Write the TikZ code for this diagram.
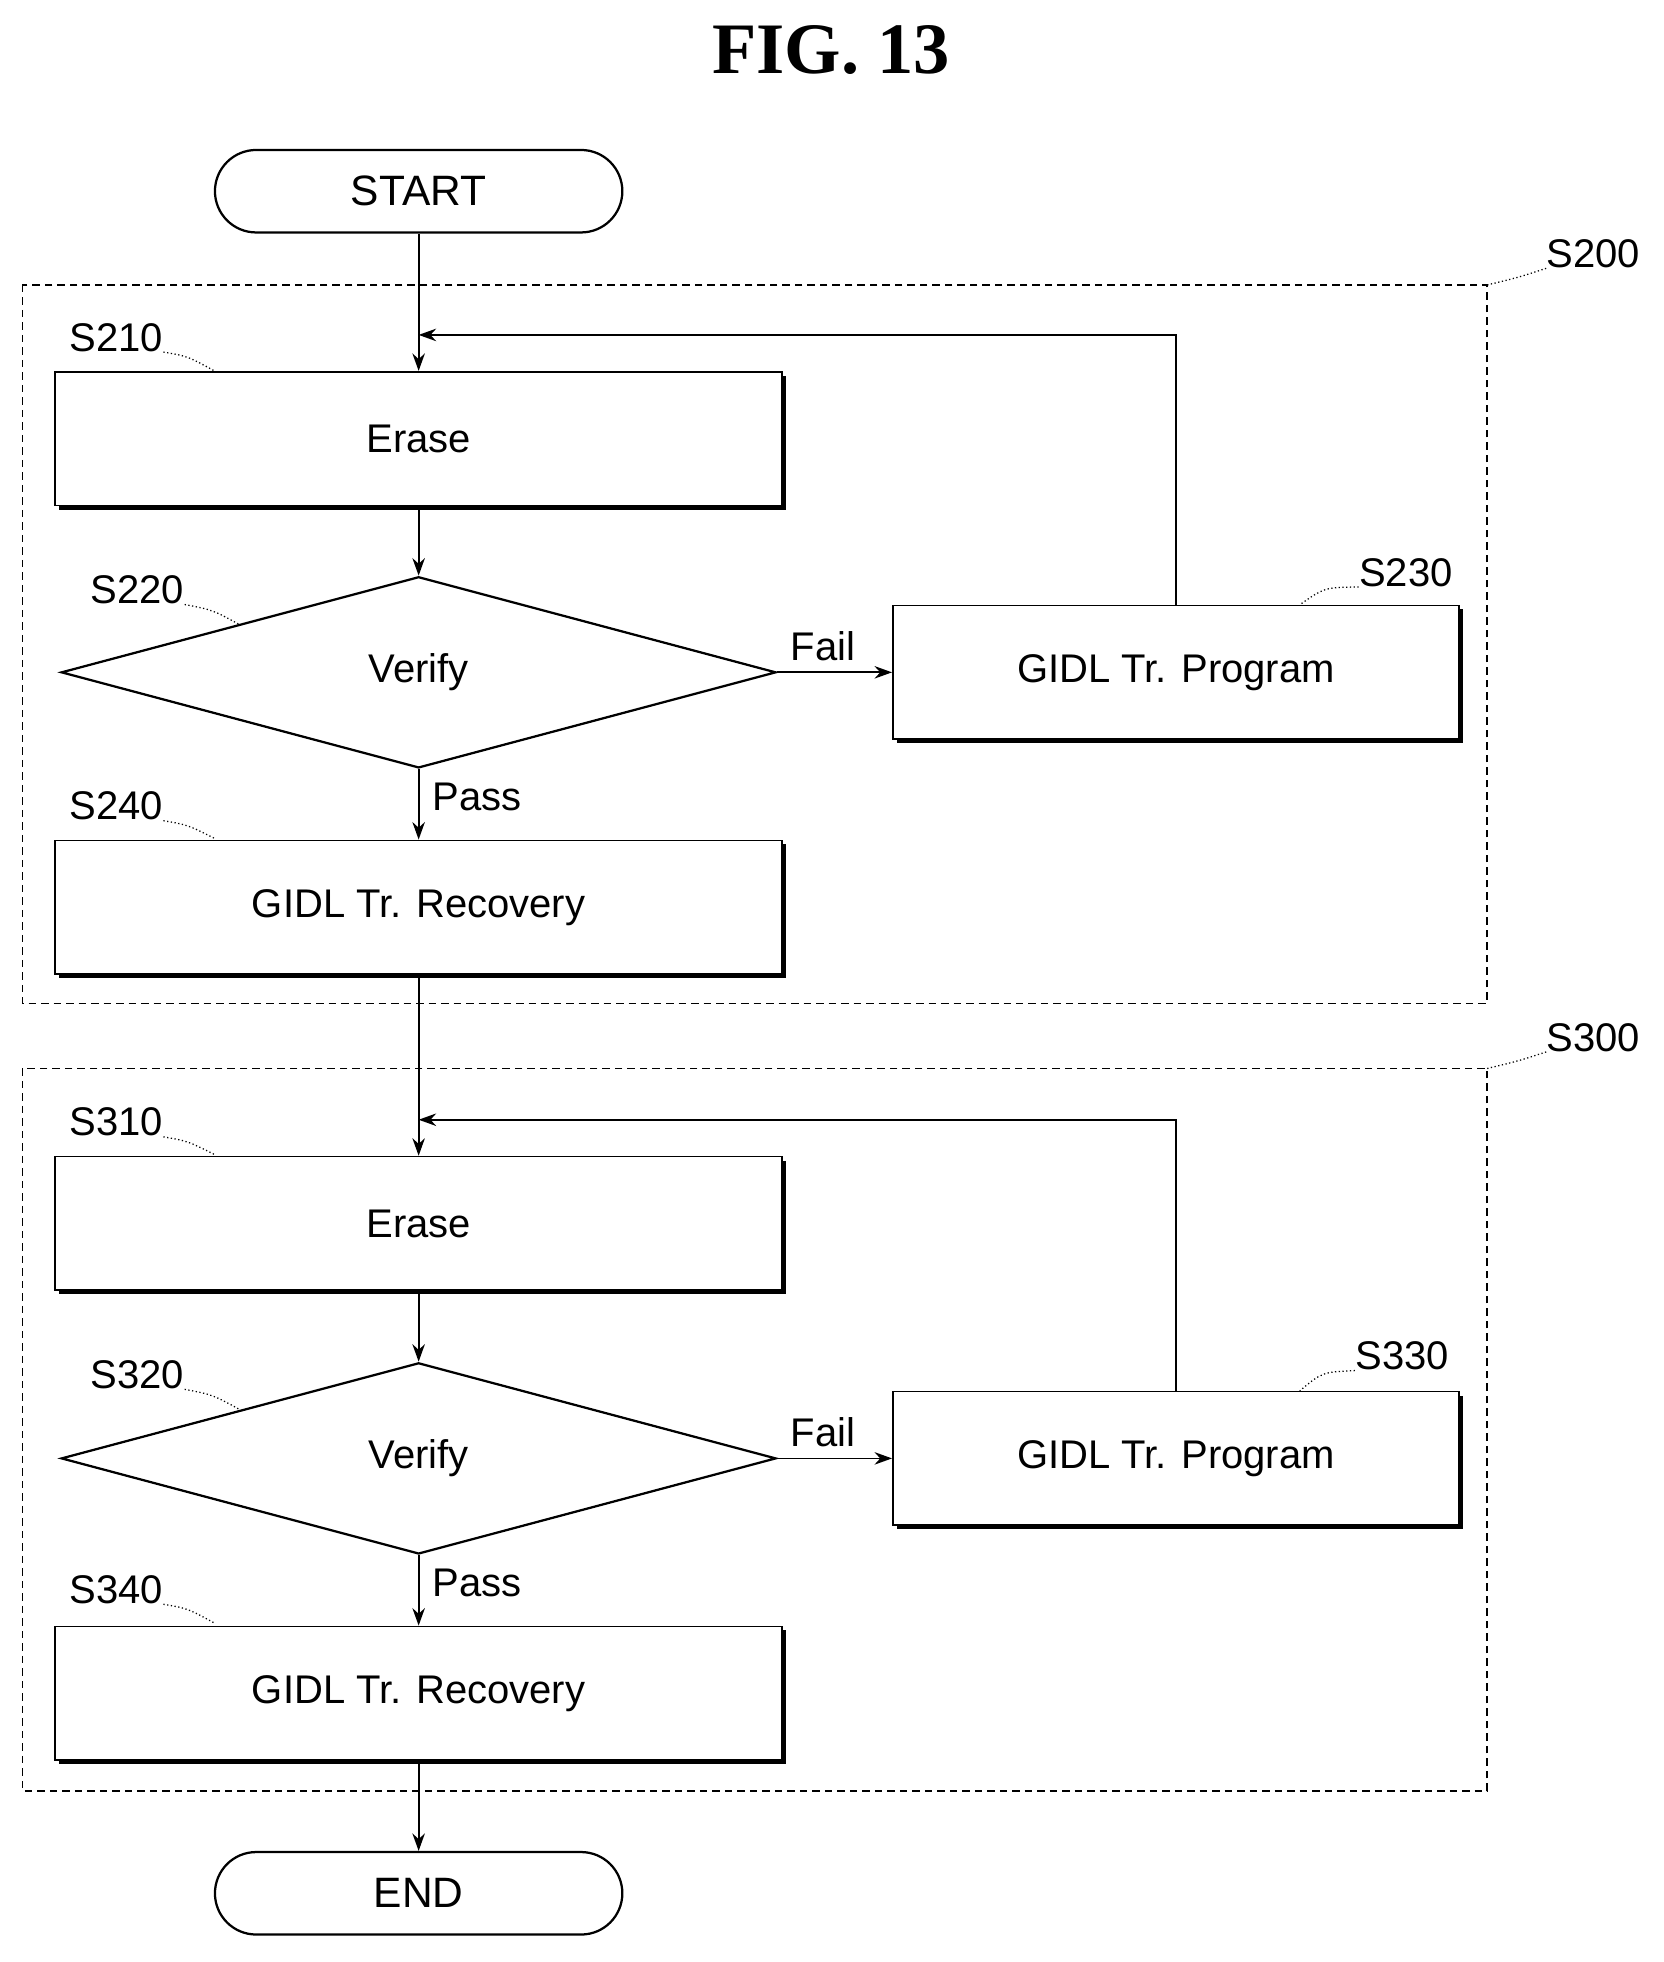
\documentclass[tikz,border=0pt]{standalone}
\usepackage{fontspec}
\setmainfont{Liberation Serif}
\setsansfont{Liberation Sans}
\usetikzlibrary{shapes.geometric,arrows.meta,shadows}
\begin{document}
\begin{tikzpicture}[x=0.5pt,y=-0.5pt,
  txt/.style={font=\sffamily\fontsize{16}{18}\selectfont},
  proc/.style={draw,line width=0.7pt,fill=white,minimum width=291pt,minimum height=53.5pt,inner sep=0pt,txt,
    drop shadow={shadow xshift=1.6pt,shadow yshift=-1.6pt,fill=black,opacity=1}},
  term/.style={draw,line width=0.9pt,rounded corners=16.5pt,minimum width=163pt,minimum height=33pt,inner sep=0pt,txt,font=\sffamily\fontsize{17}{19}\selectfont},
  dec/.style={draw,line width=0.9pt,diamond,aspect=3.74,minimum width=286pt,minimum height=76.5pt,inner sep=0pt,txt},
  grp/.style={draw,line width=0.6pt,densely dashed},
  arr/.style={line width=0.7pt,-{Stealth[length=7pt,width=5pt]}},
  lbl/.style={txt,inner sep=0pt},
  lead/.style={line width=0.5pt,densely dotted}]
\useasboundingbox (0,0) rectangle (1331,1570);
\node[font=\rmfamily\bfseries\fontsize{29}{32}\selectfont] (title) at (665,40) {FIG. 13};
% groups
\draw[grp] (18,228) rectangle (1190,803);
\draw[grp] (18,855) rectangle (1190,1433);
\node[lbl] (l200) at (1275,203) {S200};
\node[lbl] (l300) at (1275,830) {S300};
\draw[lead] (l200.south west) .. controls (1215,222) .. (1190,228);
\draw[lead] (l300.south west) .. controls (1215,849) .. (1190,855);
% nodes
\node[term] (start) at (335,153) {START};
\node[proc] (e1) at (335,351) {Erase};
\node[dec] (v1) at (335,538) {Verify};
\node[proc,minimum width=226.5pt] (p1) at (941,538) {GIDL Tr. Program};
\node[proc] (r1) at (335,726) {GIDL Tr. Recovery};
\node[proc] (e2) at (335,979) {Erase};
\node[dec] (v2) at (335,1167) {Verify};
\node[proc,minimum width=226.5pt] (p2) at (941,1167) {GIDL Tr. Program};
\node[proc] (r2) at (335,1355) {GIDL Tr. Recovery};
\node[term] (end) at (335,1515) {END};
% step labels
\node[lbl] (l210) at (93,270) {S210};
\node[lbl] (l220) at (110,472) {S220};
\node[lbl] (l230) at (1125,458) {S230};
\node[lbl] (l240) at (93,645) {S240};
\node[lbl] (l310) at (93,898) {S310};
\node[lbl] (l320) at (110,1100) {S320};
\node[lbl] (l330) at (1122,1085) {S330};
\node[lbl] (l340) at (93,1272) {S340};
\draw[lead] (l210.south east) .. controls (150,285) .. (172,297);
\draw[lead] (l240.south east) .. controls (150,660) .. (172,671);
\draw[lead] (l310.south east) .. controls (150,913) .. (172,924);
\draw[lead] (l340.south east) .. controls (150,1287) .. (172,1299);
\draw[lead] (l220.south east) .. controls (170,488) .. (192,500);
\draw[lead] (l320.south east) .. controls (170,1116) .. (192,1128);
\draw[lead] (l230.south west) .. controls (1060,470) .. (1040,484);
\draw[lead] (l330.south west) .. controls (1058,1098) .. (1040,1113);
% connectors
\coordinate (j1) at (335,268);
\coordinate (j2) at (335,896);
\draw[arr] (start.south) -- (e1.north);
\draw[arr] (p1.north) |- (j1);
\draw[arr] (e1.south) -- (v1.north);
\draw[arr] (v1.east) -- node[above,txt,pos=0.4,yshift=1pt] {Fail} (p1.west);
\draw[arr] (v1.south) -- node[right,txt,pos=0.4,xshift=2pt] {Pass} (r1.north);
\draw[arr] (r1.south) -- (e2.north);
\draw[arr] (p2.north) |- (j2);
\draw[arr] (e2.south) -- (v2.north);
\draw[arr] (v2.east) -- node[above,txt,pos=0.4,yshift=1pt] {Fail} (p2.west);
\draw[arr] (v2.south) -- node[right,txt,pos=0.4,xshift=2pt] {Pass} (r2.north);
\draw[arr] (r2.south) -- (end.north);
\end{tikzpicture}
\end{document}
